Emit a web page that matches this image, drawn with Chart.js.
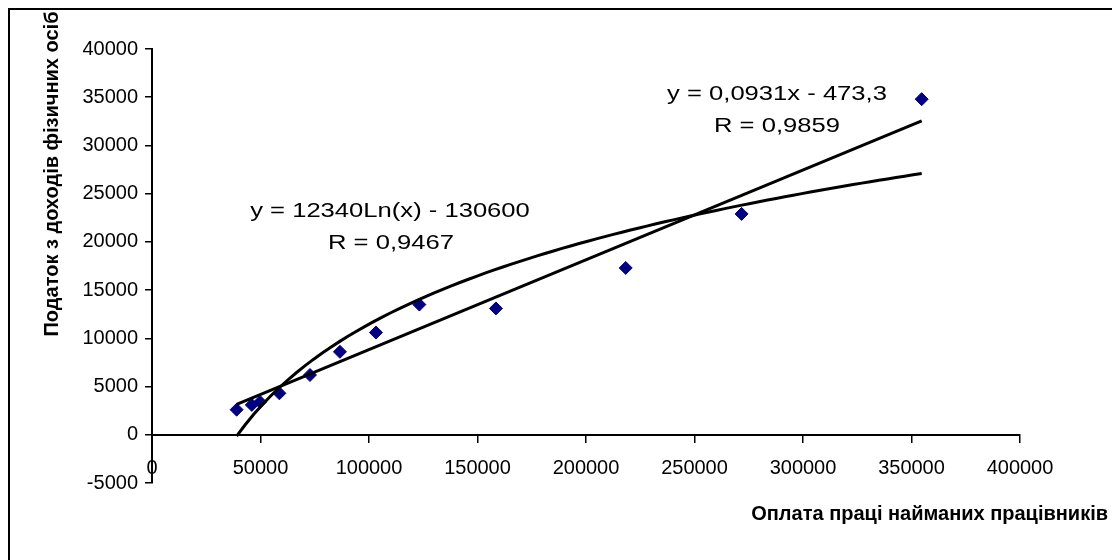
<!DOCTYPE html>
<html>
<head>
<meta charset="utf-8">
<script src="https://cdn.jsdelivr.net/npm/chart.js@4.4.0/dist/chart.umd.min.js"></script>
<style>
  html, body { margin: 0; padding: 0; background: #fff; }
  canvas { display: block; }
</style>
</head>
<body>
<canvas id="chart" width="1112" height="560"></canvas>
<script>
// Оплата праці (x) і податок з доходів (y)
const wages = [39000, 46000, 49800, 58700, 72800, 86600, 103200, 123200, 158500, 218300, 271700, 354700];
const tax = [2600, 3100, 3400, 4300, 6200, 8600, 10600, 13500, 13100, 17300, 22900, 34800];

const xTicks = [0, 50000, 100000, 150000, 200000, 250000, 300000, 350000, 400000];
const yTicks = [-5000, 0, 5000, 10000, 15000, 20000, 25000, 30000, 35000, 40000];

// коефіцієнти ліній тренду
const linCoef = [0.0931, -473.3];
const logCoef = [12340, -130600];
const linLabel = ['y = 0,0931x - 473,3', 'R = 0,9859'];
const logLabel = ['y = 12340Ln(x) - 130600', 'R = 0,9467'];

const xTitle = 'Оплата праці найманих працівників';
const yTitle = 'Податок з доходів фізичних осіб';

const FONT = "'Liberation Sans', Arial, sans-serif";

const xMin = Math.min(...wages);
const xMax = Math.max(...wages);
const linTrend = [xMin, xMax].map(x => ({ x, y: linCoef[0] * x + linCoef[1] }));
const logTrend = [];
for (let i = 0; i <= 80; i++) {
    const x = xMin + (xMax - xMin) * i / 80;
    logTrend.push({ x, y: logCoef[0] * Math.log(x) + logCoef[1] });
}
const points = wages.map((x, i) => ({ x, y: tax[i] }));

// рамка, підписи осей і рівняння трендів
const decor = {
    id: 'decor',
    afterDraw(chart) {
        const ctx = chart.ctx;
        ctx.save();
        ctx.strokeStyle = '#000';
        ctx.lineWidth = 2;
        ctx.beginPath();
        ctx.moveTo(9, 560);
        ctx.lineTo(9, 9);
        ctx.lineTo(1112, 9);
        ctx.stroke();

        ctx.fillStyle = '#000';
        ctx.textAlign = 'center';
        ctx.textBaseline = 'middle';

        const stretched = (text, cx, cy) => {
            ctx.save();
            ctx.translate(cx, cy);
            ctx.scale(1.28, 1);
            ctx.font = '20px ' + FONT;
            ctx.fillText(text, 0, 0);
            ctx.restore();
        };
        stretched(linLabel[0], 777, 94);
        stretched(linLabel[1], 777, 126);
        stretched(logLabel[0], 390, 211);
        stretched(logLabel[1], 391, 243);

        ctx.font = 'bold 20px ' + FONT;
        ctx.textAlign = 'right';
        ctx.fillText(xTitle, 1108, 514);

        ctx.save();
        ctx.translate(52, 174);
        ctx.rotate(-Math.PI / 2);
        ctx.textAlign = 'center';
        ctx.fillText(yTitle, 0, 0);
        ctx.restore();

        ctx.restore();
    }
};

const tickFont = { family: FONT, size: 20 };

new Chart(document.getElementById('chart'), {
    type: 'scatter',
    data: {
        datasets: [{
            label: 'Лінійний тренд',
            data: linTrend,
            showLine: true,
            borderColor: '#000',
            borderWidth: 3,
            pointRadius: 0
        }, {
            label: 'Логарифмічний тренд',
            data: logTrend,
            showLine: true,
            borderColor: '#000',
            borderWidth: 3,
            pointRadius: 0
        }, {
            label: 'Податок з доходів фізичних осіб',
            data: points,
            showLine: false,
            pointStyle: 'rectRot',
            pointRadius: 6.5,
            backgroundColor: '#000080',
            borderColor: '#000080',
            borderWidth: 1
        }]
    },
    options: {
        responsive: false,
        animation: false,
        layout: { padding: { left: 0, right: 92, top: 49, bottom: 77 } },
        plugins: {
            legend: { display: false },
            tooltip: { enabled: false }
        },
        scales: {
            x: {
                type: 'linear',
                position: { y: 0 },
                min: 0,
                max: 400000,
                afterBuildTicks: s => { s.ticks = xTicks.map(v => ({ value: v })); },
                ticks: {
                    color: '#000',
                    font: tickFont,
                    padding: 15,
                    maxRotation: 0,
                    autoSkip: false,
                    callback: v => String(v)
                },
                grid: { drawOnChartArea: false, tickLength: 7, color: '#000', lineWidth: 1.5 },
                border: { color: '#000', width: 2 }
            },
            y: {
                type: 'linear',
                position: 'left',
                min: -5000,
                max: 40000,
                afterBuildTicks: s => { s.ticks = yTicks.map(v => ({ value: v })); },
                afterFit: s => { s.width = 152; },
                ticks: {
                    color: '#000',
                    font: tickFont,
                    padding: 7,
                    autoSkip: false,
                    callback: v => String(v)
                },
                grid: { drawOnChartArea: false, tickLength: 7, color: '#000', lineWidth: 1.5 },
                border: { color: '#000', width: 2 }
            }
        }
    },
    plugins: [decor]
});
</script>
</body>
</html>
